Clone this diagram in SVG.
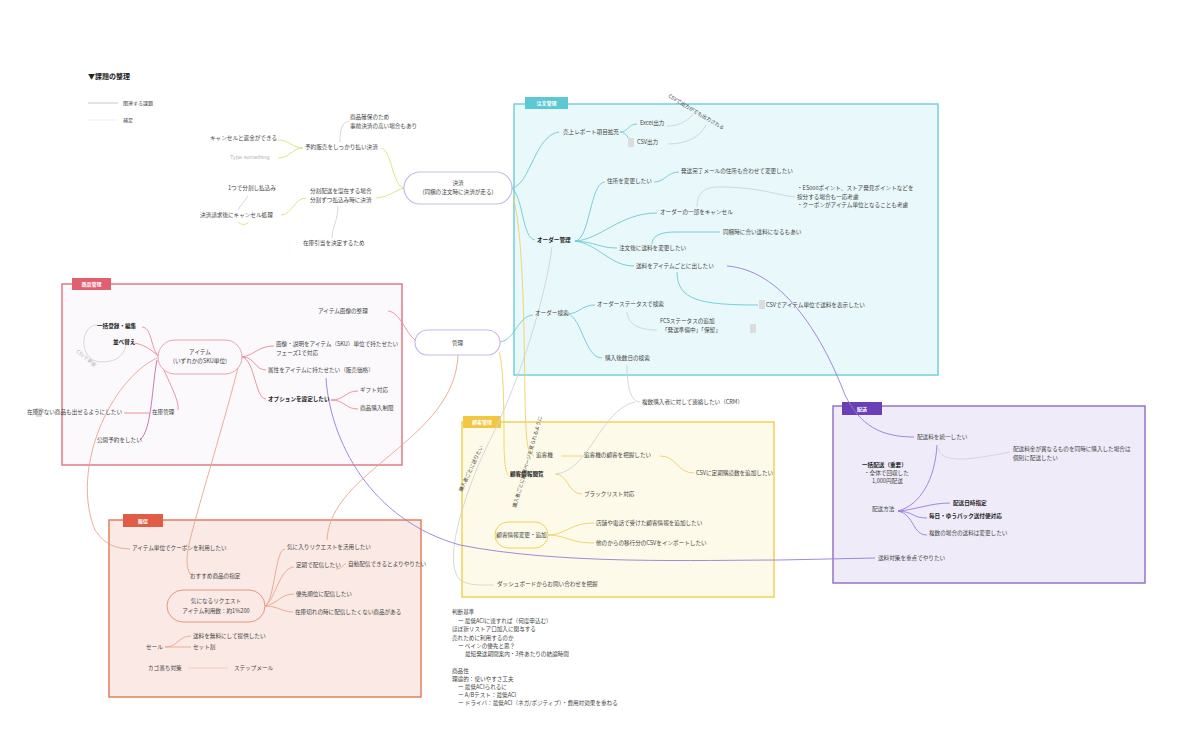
<svg xmlns="http://www.w3.org/2000/svg" width="1200" height="745" viewBox="0 0 1200 745">
<style>
text{font-family:"Noto Sans CJK JP","Noto Sans",sans-serif;font-size:5.6px;fill:#444}
.b{font-weight:bold;fill:#222}
.c{text-anchor:middle}
.w{fill:#fff;font-weight:bold;text-anchor:middle;font-size:5px}
.g{fill:#b4b4b4}
path{fill:none;stroke-width:0.9}
.cy{stroke:#6ccbd3}.ye{stroke:#efd060}.yg{stroke:#d8e27c}.pk{stroke:#e58a96}.pu{stroke:#9a7bd8}.or{stroke:#e9a58c}.gr{stroke:#d2d2d2}.mg{stroke:#c866b0}
.ic{fill:#dcdcdc}
</style>
<rect width="1200" height="745" fill="#fff"/>

<g id="legend">
<text x="88" y="79" class="b" style="font-size:7px">▼課題の整理</text>
<line x1="88" y1="103" x2="118" y2="103" stroke="#bbb" stroke-width="0.8"/>
<text x="123" y="105" style="font-size:5px">関連する課題</text>
<line x1="88" y1="120" x2="118" y2="120" stroke="#e6eef2" stroke-width="0.8"/>
<text x="123" y="122" style="font-size:5px">補足</text>
</g>

<g id="box-order"><rect x="514" y="104" width="424" height="271" fill="#e9f8fa" stroke="#74d0d8" stroke-width="1.5"/><rect x="525" y="97" width="43" height="12" fill="#5cc9d2"/><text x="546.5" y="105" class="w">注文管理</text></g>
<g id="box-product"><rect x="62" y="284" width="340" height="181" fill="#fbf9fc" stroke="#e07a86" stroke-width="1.5"/><rect x="72" y="278" width="39" height="12" fill="#e0606f"/><text x="91.5" y="286" class="w">商品管理</text></g>
<g id="box-customer"><rect x="462" y="422" width="312" height="175" fill="#fdfae9" stroke="#f0d256" stroke-width="1.5"/><rect x="463" y="416" width="38" height="12" fill="#f2c744"/><text x="482" y="424" class="w">顧客管理</text></g>
<g id="box-delivery"><rect x="833" y="406" width="312" height="177" fill="#efebf8" stroke="#9474cc" stroke-width="1.5"/><rect x="842" y="402" width="40" height="13" fill="#6b3fb5"/><text x="862" y="410.5" class="w">配送</text></g>
<g id="box-promo"><rect x="109" y="520" width="312" height="177" fill="#fbe9e5" stroke="#e0805f" stroke-width="1.5"/><rect x="123" y="514" width="40" height="13" fill="#e05c44"/><text x="143" y="522.5" class="w">販促</text></g>

<g id="connectors">
<path class="yg" d="M404,188 C392,186 392,150 381,148"/>
<path class="yg" d="M404,188 C395,190 390,197 376,198"/>
<path class="yg" d="M303,148 C292,148 290,140 278,140"/>
<path class="yg" d="M303,148 C292,148 290,158 278,158"/>
<path class="gr" d="M340,142 C340,130 342,122 349,121"/>
<path class="yg" d="M306,198 C294,198 292,215 281,215"/>
<path class="gr" d="M248,196 C244,202 240,206 238,210"/>
<path class="yg" d="M238,222 C241,225 245,225 248,223"/>
<path class="gr" d="M338,206 C338,220 332,228 332,238"/>

<path class="cy" d="M512,188 C530,185 535,135 559,132"/>
<path class="cy" d="M512,188 C524,200 522,238 535,240"/>
<path class="ye" d="M513,196 C522,230 524,300 525,400 C526,440 527,455 534,456"/>
<path class="ye" d="M499,352 C503,362 504,400 504,440 C504,465 506,474 509,475"/>
<path class="cy" d="M500,342 C515,340 518,316 533,315"/>
<path class="pk" d="M415,340 C405,332 400,312 388,311"/>
<path class="or" d="M458,355 C455,440 330,470 327,540"/>
<path class="gr" d="M552,247 C545,300 520,380 490,440 C470,480 440,560 460,580 C470,586 480,585 494,585"/>
<path class="gr" d="M627,365 C627,390 632,402 640,402"/>
<path class="gr" d="M635,402 C600,410 590,470 556,474"/>

<path class="cy" d="M620,132 C628,132 628,124 637,124"/>
<path class="cy" d="M620,132 C628,132 628,142 634,142"/>
<path class="gr" d="M667,126 C680,126 690,120 696,110"/>
<path class="gr" d="M668,144 C685,144 700,138 706,125"/>
<path class="cy" d="M575,241 C590,240 590,182 605,182"/>
<path class="cy" d="M575,241 C600,240 620,213 657,213"/>
<path class="cy" d="M575,241 C595,242 600,248 617,248"/>
<path class="cy" d="M575,241 C600,245 610,266 634,266"/>
<path class="cy" d="M654,182 C665,182 667,172 679,172"/>
<path class="gr" d="M697,207 C697,192 705,187 720,187 C760,187 780,196 795,197"/>
<path class="cy" d="M652,244 C652,236 660,232 675,232 L720,232"/>
<path class="cy" d="M677,272 C677,300 700,305 758,305"/>
<path class="pu" d="M727,266 C780,270 820,330 845,395 C860,425 880,437 914,437"/>
<path class="cy" d="M568,314 C580,313 582,305 595,305"/>
<path class="cy" d="M568,314 C582,318 585,358 602,358"/>
<path class="gr" d="M627,312 C628,325 640,330 657,330"/>

<path class="ye" d="M561,456 L582,456"/>
<path class="ye" d="M660,456 C677,456 677,473 694,473"/>
<path class="ye" d="M555,474 C568,474 568,494 582,494"/>
<path class="ye" d="M548,535 C565,535 570,523 594,523"/>
<path class="ye" d="M548,535 C565,535 570,543 594,543"/>

<path class="pu" d="M326,378 C330,440 370,520 460,545 C560,565 700,560 780,560 L875,558"/>

<path class="pu" d="M898,511 C920,505 935,480 937,445"/>
<path class="gr" d="M938,448 C942,462 960,462 1010,452"/>
<path class="pu" d="M898,511 C915,510 930,503 950,503"/>
<path class="pu" d="M898,511 C915,512 912,518 927,518"/>
<path class="pu" d="M898,511 C915,515 912,535 927,535"/>

<path class="or" d="M265,606 C275,600 275,549 285,549"/>
<path class="or" d="M265,606 C275,600 280,567 294,567"/>
<path class="or" d="M265,606 C278,604 280,594 294,594"/>
<path class="or" d="M265,606 C278,606 282,612 293,612"/>
<path class="or" d="M336,569 C341,569 343,566 346,563"/>
<path class="or" d="M165,647 C178,647 178,636 191,636"/>
<path class="or" d="M165,647 L191,647"/>
<path class="or" d="M188,668 L228,668" style="stroke:#f1c6b6"/>

<path class="pk" d="M158,356 C150,345 152,328 142,327"/>
<path class="pk" d="M158,356 C150,348 140,343 132,343"/>
<path class="pk" d="M158,356 C165,375 180,400 178,410"/>
<path class="mg" d="M157,360 C152,385 152,430 140,440"/>
<path class="pk" d="M150,413 L124,413"/>
<path class="pk" d="M242,357 C255,355 258,346 274,346"/>
<path class="pk" d="M242,357 C255,357 255,370 266,370"/>
<path class="pk" d="M242,357 C255,360 255,399 266,399"/>
<path class="pk" d="M331,400 C345,400 345,391 358,391"/>
<path class="pk" d="M331,400 C345,400 345,409 358,409"/>
<path class="gr" d="M97,325 C80,325 78,360 100,362 C115,362 122,358 126,346"/>
<path class="or" d="M157,358 C110,380 70,470 95,530 C105,545 115,548 130,549"/>
<path class="or" d="M240,360 C225,420 200,500 190,540 C185,560 187,572 192,576"/>
</g>

<g id="n-cost"><rect x="404" y="172" width="108" height="32" rx="16" fill="#fff" stroke="#c9b9ea" stroke-width="1.2"/><text x="458" y="185" class="c">決済</text><text x="458" y="194" class="c">(同梱の注文時に決済が走る)</text></g>
<g id="n-c1"><text x="350" y="119">商品確保のため</text><text x="350" y="128">事前決済の高い場合もあり</text></g>
<g id="n-c2"><text x="305" y="149">予約販売をしっかり払い決済</text></g>
<g id="n-c3"><text x="210" y="140">キャンセルと返金ができる</text></g>
<g id="n-c4"><text x="230" y="159" class="g" style="font-family:'Liberation Sans',sans-serif">Type something</text></g>
<g id="n-c5"><text x="310" y="193">分割配送を混在する場合</text><text x="310" y="202">分割ずつ払込み時に決済</text></g>
<g id="n-c6"><text x="228" y="190">1つで分割し払込み</text></g>
<g id="n-c7"><text x="200" y="217">決済請求後にキャンセル処理</text></g>
<g id="n-c8"><text x="303" y="245">在庫引当を決定するため</text></g>

<g id="n-manage"><rect x="415" y="330" width="85" height="25" rx="12.5" fill="#fff" stroke="#c9b9ea" stroke-width="1.2"/><text x="457.5" y="345" class="c">管理</text></g>

<g id="n-o1"><text x="563" y="134">売上レポート項目拡充</text></g>
<g id="n-o2"><text x="640" y="125">Excel出力</text></g>
<g id="n-o3"><rect x="628" y="138" width="6" height="9" class="ic"/><text x="637" y="144">CSV出力</text></g>
<g id="n-o4"><text x="668" y="97" transform="rotate(31 668 97)" style="font-size:5px">CSVで出力がでも出力される</text></g>
<g id="n-o5"><text x="607" y="183">住所を変更したい</text></g>
<g id="n-o6"><text x="681" y="173">発送完了メールの住所も合わせて変更したい</text></g>
<g id="n-o7"><text x="797" y="190">・ES000ポイント、ストア発見ポイントなどを</text><text x="797" y="199">按分する場合も一応考慮</text><text x="797" y="207">・クーポンがアイテム単位となることも考慮</text></g>
<g id="n-o8"><text x="660" y="214">オーダーの一部をキャンセル</text></g>
<g id="n-o9"><text x="537" y="242" class="b">オーダー管理</text></g>
<g id="n-o10"><text x="723" y="234">同梱時に合い送料になるもあい</text></g>
<g id="n-o11"><text x="619" y="250">注文後に送料を変更したい</text></g>
<g id="n-o12"><text x="636" y="268">送料をアイテムごとに出したい</text></g>
<g id="n-o13"><rect x="759" y="300" width="6" height="9" class="ic"/><text x="766" y="307">CSVでアイテム単位で送料を表示したい</text></g>
<g id="n-o14"><text x="535" y="315">オーダー検索</text></g>
<g id="n-o15"><text x="597" y="306">オーダーステータスで検索</text></g>
<g id="n-o16"><text x="660" y="323">FCSステータスの追加</text><text x="662" y="332">「発送準備中」「保留」</text><rect x="750" y="324" width="6" height="9" class="ic"/></g>
<g id="n-o17"><text x="605" y="360">購入後数日の検索</text></g>

<g id="n-k1"><text x="642" y="404">複数購入者に対して連絡したい（CRM）</text></g>
<g id="n-k2"><text x="516" y="508" transform="rotate(-74 516 508)" style="font-size:5px">購入者ごとに顧客ページを見られるように</text></g>
<g id="n-k3"><text x="462" y="492" transform="rotate(-65 462 492)" style="font-size:5px">購入者ごとに送りたい</text></g>
<g id="n-k4"><text x="536" y="457">追客機</text></g>
<g id="n-k5"><text x="584" y="457">追客機の顧客を把握したい</text></g>
<g id="n-k6"><text x="696" y="475">CSVに定期購読数を追加したい</text></g>
<g id="n-k7"><text x="510" y="476" class="b">顧客情報閲覧</text></g>
<g id="n-k8"><text x="584" y="496">ブラックリスト対応</text></g>
<g id="n-k9"><rect x="495" y="522" width="53" height="26" rx="13" fill="#fdfae9" stroke="#f0d256" stroke-width="1"/><text x="521.5" y="537" class="c">顧客情報変更・追加</text></g>
<g id="n-k10"><text x="596" y="525">店舗や電話で受けた顧客情報を追加したい</text></g>
<g id="n-k11"><text x="596" y="545">他のからの移行分のCSVをインポートしたい</text></g>
<g id="n-k12"><text x="497" y="586">ダッシュボードからお問い合わせを把握</text></g>

<g id="n-d1"><text x="917" y="439">配送料を統一したい</text></g>
<g id="n-d2"><text x="1013" y="451">配送料金が異なるものを同時に購入した場合は</text><text x="1013" y="460">個別に配送したい</text></g>
<g id="n-d3"><text x="862" y="467" class="b">一括配送（重要）</text><text x="864" y="475">・全体で回収した</text><text x="872" y="483">1,000円配送</text></g>
<g id="n-d4"><text x="872" y="511">配送方法</text></g>
<g id="n-d5"><text x="953" y="505" class="b">配送日時指定</text></g>
<g id="n-d6"><text x="929" y="518" class="b">毎日・ゆうパック送付便対応</text></g>
<g id="n-d7"><text x="929" y="535">複数の場合の送料は変更したい</text></g>
<g id="n-d8"><text x="878" y="560">送料対策を重点でやりたい</text></g>

<g id="n-p1"><text x="132" y="550">アイテム単位でクーポンを利用したい</text></g>
<g id="n-p2"><text x="190" y="578">おすすめ商品の指定</text></g>
<g id="n-p3"><rect x="167" y="590" width="98" height="32" rx="16" fill="#fbe9e5" stroke="#e2987c" stroke-width="1"/><text x="216" y="603" class="c">気になるリクエスト</text><text x="216" y="613" class="c">アイテム利用数：約1%200</text></g>
<g id="n-p4"><text x="287" y="549">気に入りリクエストを活用したい</text></g>
<g id="n-p5"><text x="296" y="567">定期で配信したい</text></g>
<g id="n-p6"><text x="348" y="566">自動配信できるとよりやりたい</text></g>
<g id="n-p7"><text x="296" y="596">優先順位に配信したい</text></g>
<g id="n-p8"><text x="295" y="614">在庫切れの時に配信したくない商品がある</text></g>
<g id="n-p9"><text x="146" y="649">セール</text></g>
<g id="n-p10"><text x="193" y="638">送料を無料にして提供したい</text></g>
<g id="n-p11"><text x="193" y="649">セット割</text></g>
<g id="n-p12"><text x="148" y="670">カゴ落ち対策</text></g>
<g id="n-p13"><text x="234" y="670">ステップメール</text></g>

<g id="n-i1"><text x="318" y="313">アイテム画像の整理</text></g>
<g id="n-i2"><text x="97" y="328" class="b">一括登録・編集</text></g>
<g id="n-i3"><text x="113" y="344" class="b">並べ替え</text></g>
<g id="n-i4"><text x="76" y="352" transform="rotate(40 76 352)" class="g" style="font-size:5px">CSVで更新</text></g>
<g id="n-item"><rect x="158" y="340" width="84" height="34" rx="17" fill="#fbf9fc" stroke="#eaa3ad" stroke-width="1"/><text x="200" y="354" class="c">アイテム</text><text x="200" y="363" class="c">(いずれかのSKU単位)</text></g>
<g id="n-i5"><text x="276" y="346">画像・説明をアイテム（SKU）単位で持たせたい</text><text x="276" y="355">フェーズ1で対応</text></g>
<g id="n-i6"><text x="268" y="372">属性をアイテムに持たせたい（販売価格）</text></g>
<g id="n-i7"><text x="268" y="401" class="b">オプションを設定したい</text></g>
<g id="n-i8"><text x="360" y="392">ギフト対応</text></g>
<g id="n-i9"><text x="360" y="410">商品購入制限</text></g>
<g id="n-i10"><text x="152" y="414">在庫管理</text></g>
<g id="n-i11"><rect x="36" y="408" width="6" height="9" class="ic"/><text x="122" y="414" style="text-anchor:end">在庫がない商品も出せるようにしたい</text></g>
<g id="n-i12"><text x="97" y="442">公開予約をしたい</text></g>

<g id="notes">
<text x="452" y="614">判断基準</text>
<text x="458" y="623">ー 最低ACIに達すれば（何度申込む）</text>
<text x="452" y="631">ほぼ新リストア口加入に関与する</text>
<text x="452" y="640">売れために利用するのか</text>
<text x="458" y="648">ー ペインの優先と思？</text>
<text x="465" y="656">最短発送期間案内・3件あたりの結論時間</text>
<text x="452" y="673">商品性</text>
<text x="452" y="681">理論的：使いやすさ工夫</text>
<text x="458" y="689">ー 最低ACIられるに</text>
<text x="458" y="697">ー A/Bテスト：最低ACI</text>
<text x="458" y="705">ー ドライバ：最低ACI（ネガ/ポジティブ）・費用対効果を重ねる</text>
</g>
</svg>
